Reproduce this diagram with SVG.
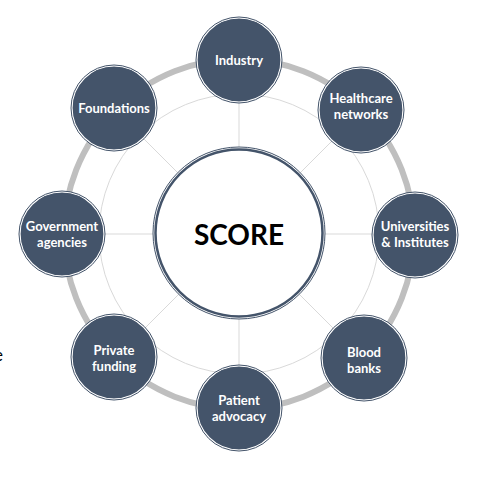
<svg xmlns="http://www.w3.org/2000/svg" width="490" height="479" viewBox="0 0 490 479">
<style>
.node circle.f{fill:#44546a;stroke:#ffffff;stroke-width:1.2}
.node circle.o{fill:none;stroke:#44546a;stroke-width:1}
.node text{font-family:Lato,"Liberation Sans",sans-serif;font-weight:bold;font-size:13px;fill:#ffffff;text-anchor:middle}
.spoke{stroke:#d9d9d9;stroke-width:1;fill:none}
</style>
<rect width="490" height="479" fill="#ffffff"/>
<text x="3" y="361" font-family="Lato,'Liberation Sans',sans-serif" font-size="17" fill="#000" text-anchor="end">e</text>
<g id="connectors">
<circle class="spoke" cx="239" cy="234" r="140"/>
<line class="spoke" x1="239" y1="234" x2="239" y2="59"/>
<line class="spoke" x1="239" y1="234" x2="363" y2="110"/>
<line class="spoke" x1="239" y1="234" x2="414" y2="234"/>
<line class="spoke" x1="239" y1="234" x2="363" y2="358"/>
<line class="spoke" x1="239" y1="234" x2="239" y2="409"/>
<line class="spoke" x1="239" y1="234" x2="115" y2="358"/>
<line class="spoke" x1="239" y1="234" x2="64" y2="234"/>
<line class="spoke" x1="239" y1="234" x2="115" y2="110"/>
<circle cx="239" cy="234" r="175" fill="none" stroke="#bfbfbf" stroke-width="6"/>
</g>
<g id="score">
<circle cx="239" cy="233" r="86" fill="#ffffff" stroke="#44546a" stroke-width="1"/>
<circle cx="239" cy="233" r="83.5" fill="#ffffff" stroke="#44546a" stroke-width="2.5"/>
<text x="239" y="245" font-family="Lato,'Liberation Sans',sans-serif" font-weight="bold" font-size="28" fill="#000000" text-anchor="middle">SCORE</text>
</g>
<g id="industry" class="node"><circle class="f" cx="239" cy="60" r="42"/><circle class="o" cx="239" cy="60" r="43"/><text x="239" y="65">Industry</text></g>
<g id="healthcare" class="node"><circle class="f" cx="361" cy="110" r="42"/><circle class="o" cx="361" cy="110" r="43"/><text x="361" y="103">Healthcare</text><text x="361" y="119">networks</text></g>
<g id="universities" class="node"><circle class="f" cx="415" cy="235" r="42"/><circle class="o" cx="415" cy="235" r="43"/><text x="415" y="231">Universities</text><text x="415" y="247">&amp; Institutes</text></g>
<g id="blood" class="node"><circle class="f" cx="364" cy="358" r="42"/><circle class="o" cx="364" cy="358" r="43"/><text x="364" y="357">Blood</text><text x="364" y="373">banks</text></g>
<g id="patient" class="node"><circle class="f" cx="239" cy="408" r="42"/><circle class="o" cx="239" cy="408" r="43"/><text x="239" y="405">Patient</text><text x="239" y="421">advocacy</text></g>
<g id="private" class="node"><circle class="f" cx="114" cy="357" r="42"/><circle class="o" cx="114" cy="357" r="43"/><text x="114" y="355">Private</text><text x="114" y="371">funding</text></g>
<g id="government" class="node"><circle class="f" cx="62" cy="234" r="42"/><circle class="o" cx="62" cy="234" r="43"/><text x="62" y="231">Government</text><text x="62" y="247">agencies</text></g>
<g id="foundations" class="node"><circle class="f" cx="114" cy="108" r="42"/><circle class="o" cx="114" cy="108" r="43"/><text x="114" y="113">Foundations</text></g>
</svg>
